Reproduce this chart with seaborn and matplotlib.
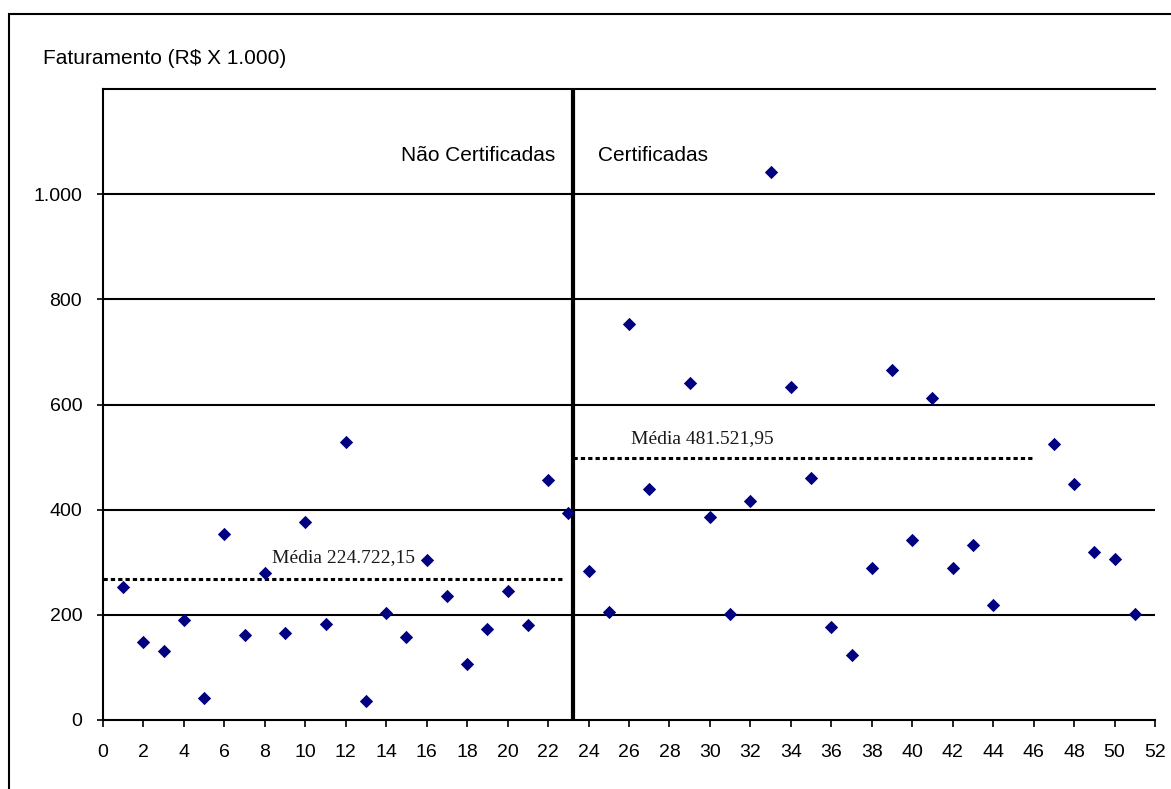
import matplotlib
matplotlib.use('Agg')
import pandas as pd
import seaborn as sns
import matplotlib.pyplot as plt
from matplotlib.patches import Rectangle
from matplotlib.ticker import FuncFormatter

# empresas nao certificadas (1-23) e certificadas (24-51)
x_nao = list(range(1, 24))
fat_nao = [252, 148, 132, 191, 41, 353, 161, 279, 166, 377, 182, 529,
           37, 204, 157, 304, 236, 107, 174, 245, 181, 457, 394]
x_cert = [24, 25, 26, 27, 29, 30, 31, 32, 33, 34, 35, 36, 37, 38, 39, 40,
          41, 42, 43, 44, 47, 48, 49, 50, 51]
fat_cert = [284, 206, 754, 440, 640, 386, 201, 416, 1043, 633, 461, 176,
            123, 290, 666, 343, 613, 290, 332, 218, 524, 449, 319, 307, 202]

media_nao = 268
media_cert = 499
txt_media_nao = 'Média 224.722,15'
txt_media_cert = 'Média 481.521,95'
divisao = 23.25

df = pd.DataFrame({'empresa': x_nao + x_cert,
                   'faturamento': fat_nao + fat_cert})

sns.set_style('white')
plt.rcParams['font.family'] = ['Liberation Sans', 'DejaVu Sans']
plt.rcParams['text.color'] = 'black'
plt.rcParams['xtick.color'] = 'black'
plt.rcParams['ytick.color'] = 'black'

fig = plt.figure(figsize=(11.71, 7.89), dpi=100)
ax = fig.add_axes([103/1171, 1-720/789, (1155-103)/1171, (720-89)/789])

for v in range(200, 1001, 200):
    ax.axhline(v, color='black', lw=1.5, zorder=1)

sns.scatterplot(data=df, x='empresa', y='faturamento', marker='D', s=46,
                color='#000080', linewidth=0, ax=ax, zorder=3)

ax.plot([0, 22.7], [media_nao, media_nao], color='black', lw=2.2,
        linestyle=(0, (1.4, 1.0)), zorder=2)
ax.plot([divisao, 46], [media_cert, media_cert], color='black', lw=2.2,
        linestyle=(0, (1.4, 1.0)), zorder=2)
ax.axvline(divisao, color='black', lw=3, zorder=2)

ax.text(8.35, 308, txt_media_nao, family='Liberation Serif', fontsize=14,
        va='center', ha='left', color='#1a1a1a')
ax.text(26.1, 536, txt_media_cert, family='Liberation Serif', fontsize=14,
        va='center', ha='left', color='#1a1a1a')
ax.text(22.35, 1074, 'Não Certificadas', fontsize=15, va='center', ha='right')
ax.text(24.47, 1074, 'Certificadas', fontsize=15, va='center', ha='left')

ax.set_xlim(0, 52)
ax.set_ylim(0, 1200)
ax.set_xticks(range(0, 53, 2))
ax.set_yticks(range(0, 1001, 200))
ax.yaxis.set_major_formatter(FuncFormatter(lambda v, p: f'{int(v):,}'.replace(',', '.')))
ax.set_xlabel('')
ax.set_ylabel('')
ax.tick_params(axis='x', direction='out', length=5, width=1.2, pad=12,
               labelsize=14, bottom=True, colors='black')
ax.tick_params(axis='y', direction='out', length=4, width=1.2, pad=11,
               labelsize=14, left=True, colors='black')
for side in ['left', 'bottom', 'top']:
    ax.spines[side].set_linewidth(1.5)
    ax.spines[side].set_color('black')
ax.spines['right'].set_visible(False)

fig.text(43/1171, 1-59/789, 'Faturamento (R$ X 1.000)', fontsize=15,
         va='center', ha='left')

fig.patches.append(Rectangle((9/1171, -0.1), 1.2, 1.1 - 14/789, fill=False,
                             lw=1.5, edgecolor='black',
                             transform=fig.transFigure, figure=fig))

fig.savefig('out.png', dpi=100)
